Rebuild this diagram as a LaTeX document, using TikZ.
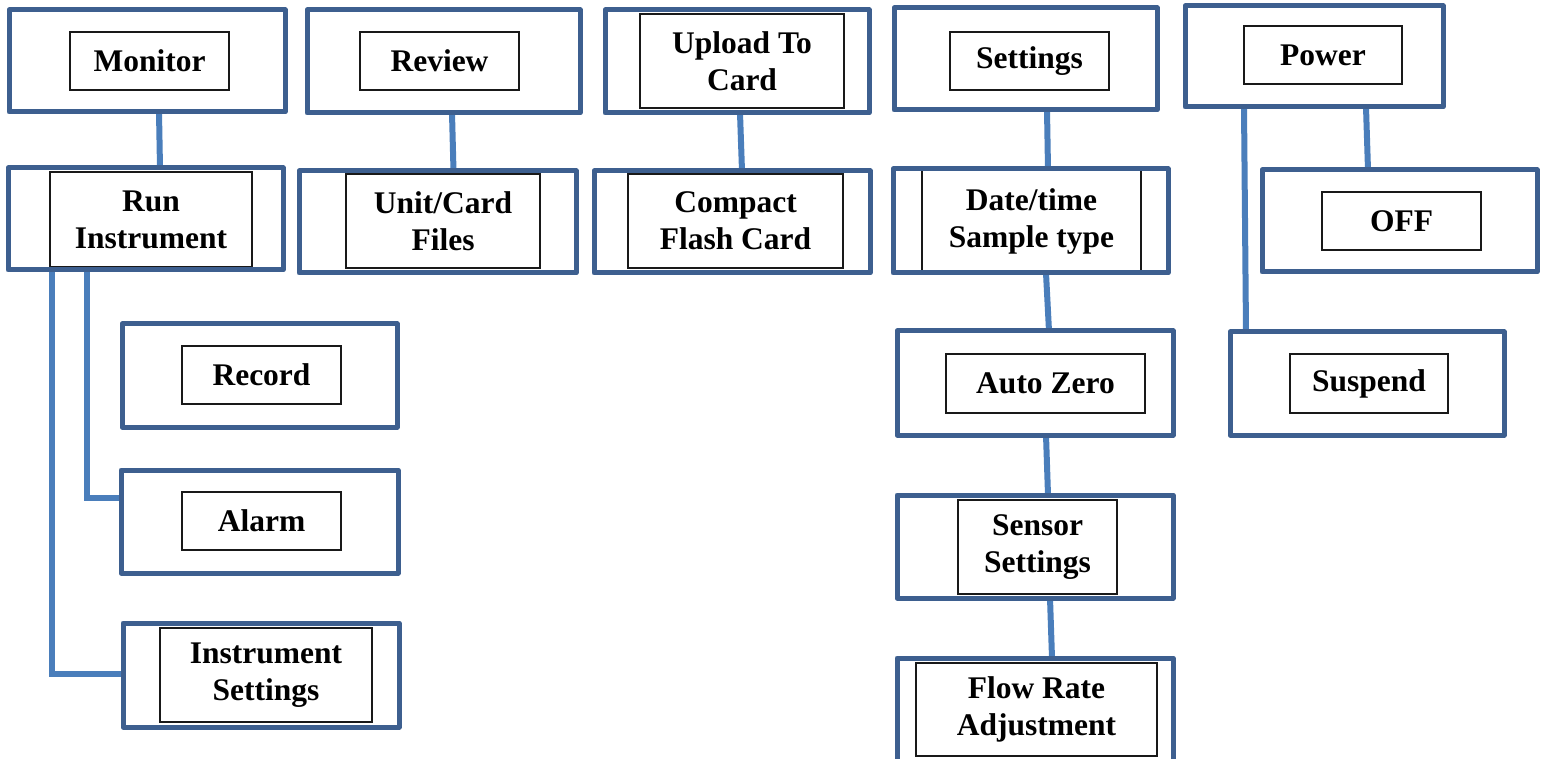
\documentclass[tikz,border=0pt]{standalone}
\usepackage{fontspec}
\setmainfont{Liberation Serif}
\usetikzlibrary{backgrounds}
\definecolor{boxblue}{RGB}{61,95,143}
\definecolor{linkblue}{RGB}{74,126,187}
\newcommand\mkouter[5]{\node[outerbox, minimum width={#4-#2}, minimum height={#5-#3}] (#1) at ({(#2+#4)/2},{(#3+#5)/2}) {};}
\newcommand\mkinner[6]{\node[innerbox, minimum width={#4-#2}, minimum height={#5-#3}] (#1) at ({(#2+#4)/2},{(#3+#5)/2}) {#6};}
\begin{document}
\begin{tikzpicture}[x=1pt,y=-1pt,
  outerbox/.style={draw=boxblue, line width=5pt, line join=round, inner sep=0pt, outer sep=0pt},
  innerbox/.style={draw=black!90, line width=1.8pt, inner sep=0pt, outer sep=0pt, align=center, font={\bfseries\fontsize{31.5}{37}\selectfont}},
  link/.style={draw=linkblue, line width=6pt}]
\useasboundingbox (0,0) rectangle (1545,759);

% inner boxes with text
\mkinner{mon-t}{70}{32}{229}{90}{Monitor}
\mkinner{rev-t}{360}{32}{519}{90}{Review}
\mkinner{upl-t}{640}{14}{844}{108}{Upload To\\Card}
\mkinner{set-t}{950}{32}{1109}{90}{Settings}
\mkinner{pow-t}{1244}{26}{1402}{84}{Power}
\mkinner{run-t}{50}{172}{252}{267}{Run\\Instrument}
\mkinner{unit-t}{346}{174}{540}{268}{Unit/Card\\Files}
\mkinner{cf-t}{628}{174}{843}{268}{Compact\\Flash Card}
\node[innerbox, draw=none, minimum width=219, minimum height=104] (date-t) at (1031.5,221) {Date/time\\Sample type};
\draw[draw=black!90, line width=1.8pt] (date-t.north west) -- (date-t.south west) (date-t.north east) -- (date-t.south east);
\mkinner{off-t}{1322}{192}{1481}{250}{OFF}
\mkinner{rec-t}{182}{346}{341}{404}{Record}
\mkinner{alm-t}{182}{492}{341}{550}{Alarm}
\mkinner{ins-t}{160}{628}{372}{722}{Instrument\\Settings}
\mkinner{auto-t}{946}{354}{1145}{413}{Auto Zero}
\mkinner{sen-t}{958}{500}{1117}{594}{Sensor\\Settings}
\mkinner{flow-t}{916}{663}{1157}{756}{Flow Rate\\Adjustment}
\mkinner{sus-t}{1290}{354}{1448}{413}{Suspend}

% outer boxes
\mkouter{mon}{9}{10}{285}{112}
\mkouter{rev}{307}{10}{580}{113}
\mkouter{upl}{605}{10}{869}{113}
\mkouter{set}{894}{8}{1157}{110}
\mkouter{pow}{1185}{6}{1443}{107}
\mkouter{run}{8}{168}{283}{270}
\mkouter{unit}{299}{171}{576}{273}
\mkouter{cf}{594}{171}{870}{273}
\mkouter{date}{893}{169}{1168}{273}
\mkouter{off}{1262}{170}{1537}{272}
\mkouter{rec}{122}{324}{397}{427}
\mkouter{alm}{121}{470}{398}{573}
\mkouter{ins}{123}{623}{399}{727}
\mkouter{auto}{897}{331}{1173}{435}
\mkouter{sen}{897}{495}{1173}{598}
\mkouter{flow}{897}{658}{1173}{762}
\mkouter{sus}{1230}{332}{1504}{435}

\coordinate (ka) at (87,498);
\coordinate (kb) at (52,674);

% connectors
\begin{pgfonlayer}{background}
\draw[link] ([xshift=12pt]mon.south) -- ([xshift=14.5pt]run.north);
\draw[link] ([xshift=8.5pt]rev.south) -- ([xshift=16pt]unit.north);
\draw[link] ([xshift=3pt]upl.south) -- ([xshift=10pt]cf.north);
\draw[link] ([xshift=21.5pt]set.south) -- ([xshift=17.5pt]date.north);
\draw[link] ([xshift=15.5pt]date.south) -- ([xshift=14pt]auto.north);
\draw[link] ([xshift=11pt]auto.south) -- ([xshift=13pt]sen.north);
\draw[link] ([xshift=15pt]sen.south) -- ([xshift=17pt]flow.north);
\draw[link] ([xshift=52pt]pow.south) -- ([xshift=-31.5pt]off.north);
\draw[link] ([xshift=-70pt]pow.south) -- ([xshift=-121pt]sus.north);
\draw[link] (run.south -| ka) -- (ka) -- (alm.west |- ka);
\draw[link] (run.south -| kb) -- (kb) -- (ins.west |- kb);
\end{pgfonlayer}
\end{tikzpicture}
\end{document}
